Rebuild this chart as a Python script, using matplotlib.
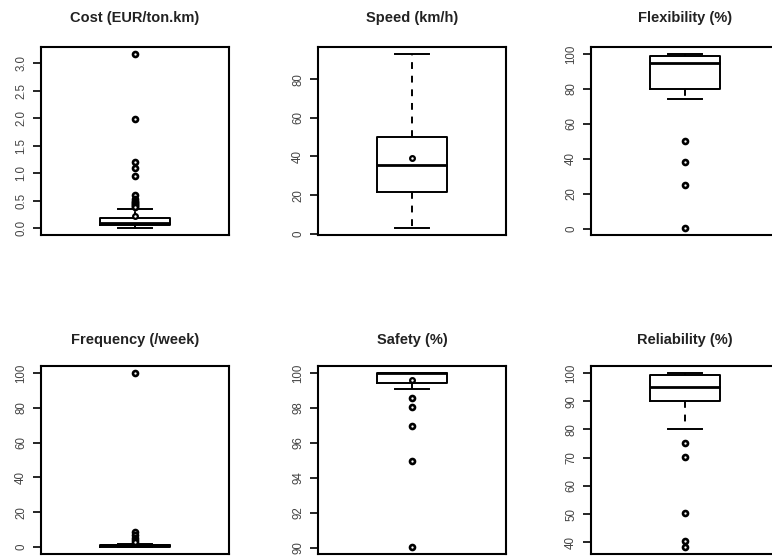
import matplotlib
matplotlib.use("Agg")
import matplotlib.pyplot as plt

plt.rcParams['font.family'] = ['Liberation Sans', 'DejaVu Sans']

titles = ["Cost (EUR/ton.km)", "Speed (km/h)", "Flexibility (%)",
          "Frequency (/week)", "Safety (%)", "Reliability (%)"]

# box statistics per panel
q1 = [0.05, 21.5, 80, 0, 99.45, 90]
med = [0.09, 35.5, 95, 1, 100, 95]
q3 = [0.18, 50, 99, 1, 100, 99.4]
whislo = [0.0, 3, 74, 0, 99.07, 80]
whishi = [0.35, 93, 100, 2, 100, 100]
fliers = [
    [3.17, 1.99, 1.20, 1.09, 0.95, 0.60, 0.53, 0.50, 0.47, 0.45, 0.44, 0.42, 0.40, 0.38],
    [],
    [50, 38.3, 25.2, 0.4],
    [100, 8.5, 7, 5, 4, 3],
    [98.55, 98.03, 96.98, 94.99, 90.04],
    [75.2, 70.2, 50.2, 40.3, 38.3],
]
means = [0.22, 39, None, None, 99.58, None]

yticks = [
    [0.0, 0.5, 1.0, 1.5, 2.0, 2.5, 3.0],
    [0, 20, 40, 60, 80],
    [0, 20, 40, 60, 80, 100],
    [0, 20, 40, 60, 80, 100],
    [90, 92, 94, 96, 98, 100],
    [40, 50, 60, 70, 80, 90, 100],
]
yticklabels = [
    ["0.0", "0.5", "1.0", "1.5", "2.0", "2.5", "3.0"],
    ["0", "20", "40", "60", "80"],
    ["0", "20", "40", "60", "80", "100"],
    ["0", "20", "40", "60", "80", "100"],
    ["90", "92", "94", "96", "98", "100"],
    ["40", "50", "60", "70", "80", "90", "100"],
]

W, H = 772, 559
fig = plt.figure(figsize=(W / 100, H / 100), dpi=100)

lefts = [41, 318, 591]
tops = [47, 366]
aw, ah = 188, 188

mk = dict(marker='o', markersize=3.6, markerfacecolor='white',
          markeredgecolor='black', markeredgewidth=1.9)

for i in range(6):
    r, c = divmod(i, 3)
    x0 = lefts[c]
    y0 = tops[r]
    ax = fig.add_axes([x0 / W, 1 - (y0 + ah) / H, aw / W, ah / H])
    st = dict(med=med[i], q1=q1[i], q3=q3[i], whislo=whislo[i],
              whishi=whishi[i], fliers=fliers[i])
    ax.bxp([st], positions=[1], widths=0.4, capwidths=0.2, showfliers=True,
           boxprops=dict(color='black', linewidth=1.4),
           whiskerprops=dict(color='black', linewidth=1.4, linestyle=(0, (3.5, 3.5))),
           capprops=dict(color='black', linewidth=1.4),
           medianprops=dict(color='black', linewidth=2.0),
           flierprops=mk)
    if means[i] is not None:
        ax.plot([1], [means[i]], linestyle='none', **dict(mk, markersize=3.4, markeredgewidth=1.6))
    vals = [whislo[i], whishi[i]] + fliers[i]
    lo, hi = min(vals), max(vals)
    pad = (hi - lo) * 0.04
    ax.set_ylim(lo - pad, hi + pad)
    ax.set_xlim(0.46, 1.54)
    ax.set_xticks([])
    ax.set_yticks(yticks[i])
    ax.set_yticklabels(yticklabels[i], rotation=90, va='center', fontsize=8.3, color='#444444')
    ax.tick_params(axis='y', length=6, width=1.2, pad=4)
    for s in ax.spines.values():
        s.set_linewidth(1.5)
    ax.set_title(titles[i], fontsize=10.5, fontweight='bold', pad=18 if r == 0 else 16,
                 color='#222222')

fig.savefig("out.png", dpi=100)
